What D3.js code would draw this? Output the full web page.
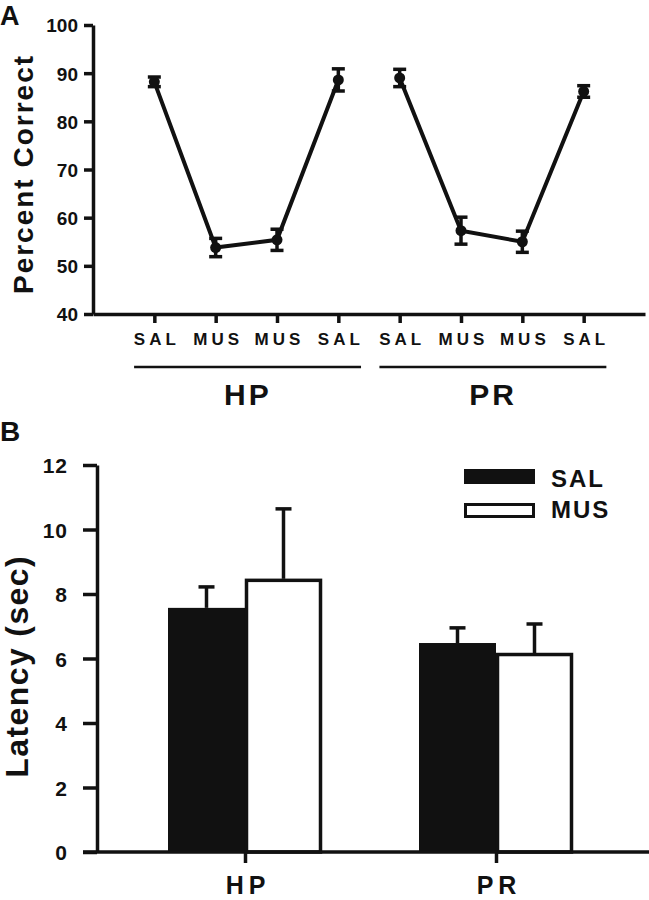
<!DOCTYPE html>
<html><head><meta charset="utf-8">
<script src="https://cdn.jsdelivr.net/npm/d3@7"></script>
<style>
body{margin:0;background:#fff;}
text{font-family:"Liberation Sans",Arial,sans-serif;font-weight:bold;fill:#111;}
</style></head>
<body>
<svg id="c" width="649" height="900"></svg>
<script>
// Panel A data
const aConditions = ["SAL","MUS","MUS","SAL","SAL","MUS","MUS","SAL"];
const aGroups = ["HP","PR"];
const aGroupOf = [0,0,0,0,1,1,1,1];
const aMeans = [88.2, 53.8, 55.4, 88.6, 89.0, 57.3, 55.0, 86.2];
const aSem = [1.0, 1.9, 2.2, 2.3, 1.8, 2.8, 2.2, 1.2];
const aTicks = [40,50,60,70,80,90,100];

// Panel B data
const bGroups = ["HP","PR"];
const bSeries = ["SAL","MUS"];
const bSalMeans = [7.57, 6.48];
const bSalSem = [0.65, 0.47];
const bMusMeans = [8.47, 6.17];
const bMusSem = [2.17, 0.90];
const bTicks = [0,2,4,6,8,10,12];

const svg = d3.select("#c");
const ink = "#111";

// ---------- Panel A ----------
const xA = d3.scaleLinear().domain([0,9]).range([93,645]);
const yA = d3.scaleLinear().domain([40,100]).range([314,25]);

const gA = svg.append("g");
gA.append("text").attr("x",0).attr("y",25).attr("font-size",27).text("A");

const yAxA = d3.axisLeft(yA).tickValues(aTicks).tickSize(9).tickSizeOuter(0).tickPadding(6);
const gy = gA.append("g").attr("transform",`translate(${xA(0)},0)`).call(yAxA);
gy.select(".domain").attr("stroke",ink).attr("stroke-width",3.5);
gy.selectAll(".tick line").attr("stroke",ink).attr("stroke-width",3.5);
gy.selectAll(".tick text").attr("font-size",19).attr("dy","0.36em");

const xAxA = d3.axisBottom(xA).tickValues(d3.range(1,9)).tickSize(9).tickSizeOuter(0).tickFormat((d)=>aConditions[d-1]).tickPadding(10);
const gx = gA.append("g").attr("transform",`translate(0,${yA(40)})`).call(xAxA);
gx.select(".domain").attr("stroke",ink).attr("stroke-width",3.5);
gx.selectAll(".tick line").attr("stroke",ink).attr("stroke-width",3.5);
gx.selectAll(".tick text").attr("font-size",17).attr("letter-spacing",4).attr("dx",2);

// group underlines and labels
aGroups.forEach((g,gi)=>{
  const idx = aGroupOf.map((v,i)=>v===gi?i+1:null).filter(v=>v!==null);
  const x1 = xA(idx[0]-0.33), x2 = xA(idx[idx.length-1]+0.37);
  gA.append("line").attr("x1",x1).attr("x2",x2).attr("y1",367).attr("y2",367).attr("stroke",ink).attr("stroke-width",2.5);
  gA.append("text").attr("x",xA((idx[0]+idx[idx.length-1])/2)+1.5).attr("y",405).attr("text-anchor","middle")
    .attr("font-size",30).attr("letter-spacing",3).text(g);
});

// lines per group
const lineA = d3.line().x(d=>xA(d.i+1)).y(d=>yA(d.v));
aGroups.forEach((g,gi)=>{
  const pts = aMeans.map((v,i)=>({i,v})).filter(d=>aGroupOf[d.i]===gi);
  gA.append("path").datum(pts).attr("d",lineA).attr("fill","none").attr("stroke",ink).attr("stroke-width",4);
});
// error bars
const ptsA = aMeans.map((v,i)=>({i,v,s:aSem[i]}));
const eb = gA.selectAll(".eb").data(ptsA).enter().append("g");
eb.append("line").attr("x1",d=>xA(d.i+1)).attr("x2",d=>xA(d.i+1)).attr("y1",d=>yA(d.v-d.s)).attr("y2",d=>yA(d.v+d.s)).attr("stroke",ink).attr("stroke-width",3.5);
[1,-1].forEach(sg=>{
  eb.append("line").attr("x1",d=>xA(d.i+1)-6.5).attr("x2",d=>xA(d.i+1)+6.5)
    .attr("y1",d=>yA(d.v+sg*d.s)).attr("y2",d=>yA(d.v+sg*d.s)).attr("stroke",ink).attr("stroke-width",3.5);
});
eb.append("circle").attr("cx",d=>xA(d.i+1)).attr("cy",d=>yA(d.v)).attr("r",5.5).attr("fill",ink);

// y label A
gA.append("text").attr("transform",`translate(33,175) rotate(-90)`).attr("text-anchor","middle")
  .attr("font-size",28).attr("letter-spacing",2).attr("dx",1).text("Percent Correct");

// ---------- Panel B ----------
const yB = d3.scaleLinear().domain([0,12]).range([852,465]);
const xB = d3.scalePoint().domain(bGroups).range([245,496]);
const xBin = d3.scaleBand().domain(bSeries).range([-77,77]);
const gB = svg.append("g");
gB.append("text").attr("x",0).attr("y",441).attr("font-size",28).text("B");

// bars
const barData = [];
bGroups.forEach((g,gi)=>{
  barData.push({g,s:"SAL",v:bSalMeans[gi],e:bSalSem[gi]});
  barData.push({g,s:"MUS",v:bMusMeans[gi],e:bMusSem[gi]});
});
const bx = d=>xB(d.g)+xBin(d.s);
gB.selectAll(".ebl").data(barData).enter().append("line")
  .attr("x1",d=>bx(d)+xBin.bandwidth()/2).attr("x2",d=>bx(d)+xBin.bandwidth()/2)
  .attr("y1",d=>yB(d.v)).attr("y2",d=>yB(d.v+d.e)).attr("stroke",ink).attr("stroke-width",3.5);
gB.selectAll(".ebc").data(barData).enter().append("line")
  .attr("x1",d=>bx(d)+xBin.bandwidth()/2-8).attr("x2",d=>bx(d)+xBin.bandwidth()/2+8)
  .attr("y1",d=>yB(d.v+d.e)).attr("y2",d=>yB(d.v+d.e)).attr("stroke",ink).attr("stroke-width",3.5);
gB.selectAll(".bar").data(barData).enter().append("rect")
  .attr("x",d=>bx(d)+(d.s==="MUS"?1.5:0)).attr("width",d=>xBin.bandwidth()-(d.s==="MUS"?3:0))
  .attr("y",d=>yB(d.v)+(d.s==="MUS"?1.5:0)).attr("height",d=>yB(0)-yB(d.v)-(d.s==="MUS"?1.5:0))
  .attr("fill",d=>d.s==="SAL"?ink:"#fff").attr("stroke",d=>d.s==="SAL"?"none":ink).attr("stroke-width",3.5);

const yAxB = d3.axisLeft(yB).tickValues(bTicks).tickSize(14).tickSizeOuter(0).tickPadding(15);
const gyB = gB.append("g").attr("transform",`translate(97,0)`).call(yAxB);
gyB.select(".domain").attr("stroke",ink).attr("stroke-width",3.5);
gyB.selectAll(".tick line").attr("stroke",ink).attr("stroke-width",3.5);
gyB.selectAll(".tick text").attr("font-size",21).attr("letter-spacing",1).attr("dy","0.36em");

// x axis B
gB.append("line").attr("x1",83).attr("x2",649).attr("y1",yB(0)).attr("y2",yB(0)).attr("stroke",ink).attr("stroke-width",3.5);
const xAxB = d3.axisBottom(xB).tickSize(11).tickSizeOuter(0).tickPadding(0);
const gxB = gB.append("g").attr("transform",`translate(0,${yB(0)})`).call(xAxB);
gxB.select(".domain").remove();
gxB.selectAll(".tick line").attr("stroke",ink).attr("stroke-width",3.5);
gxB.selectAll(".tick text").attr("font-size",25).attr("letter-spacing",5).attr("dx",2.5).attr("y",42).attr("dy",0);

// legend
const lg = gB.append("g");
bSeries.forEach((s,i)=>{
  const yy = 469 + i*34;
  lg.append("rect").attr("x",s==="SAL"?464:465.5).attr("y",s==="SAL"?yy:yy+1.5).attr("width",s==="SAL"?71:68).attr("height",s==="SAL"?15:12)
    .attr("fill",s==="SAL"?ink:"#fff").attr("stroke",s==="SAL"?"none":ink).attr("stroke-width",3);
  lg.append("text").attr("x",551).attr("y",487 + i*31).attr("font-size",24).attr("letter-spacing",2).text(s);
});

// y label B
gB.append("text").attr("transform",`translate(28,667) rotate(-90)`).attr("text-anchor","middle")
  .attr("font-size",32).attr("letter-spacing",1.4).attr("dx",0.7).text("Latency (sec)");
</script>
</body></html>
